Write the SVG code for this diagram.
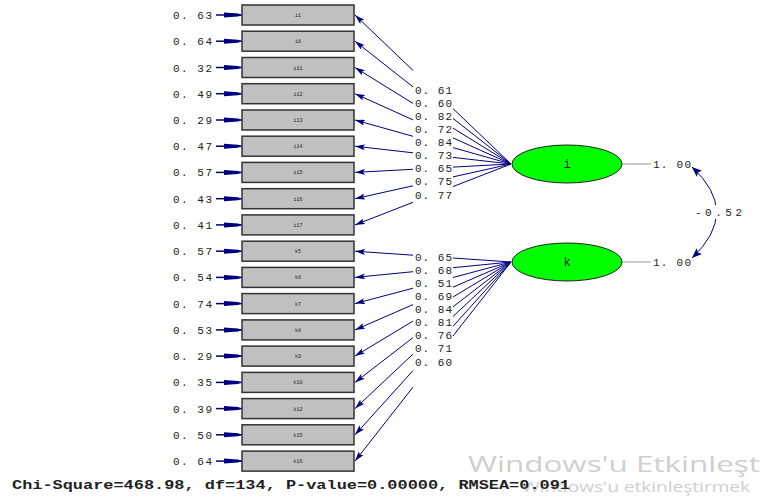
<svg xmlns="http://www.w3.org/2000/svg" width="762" height="497" viewBox="0 0 762 497">
<style>
.box{fill:#c0c0c0;stroke:#333;stroke-width:1.5}
.bl{font-family:"Liberation Mono",monospace;font-size:5px;fill:#222;text-anchor:middle}
.num{font-family:"Liberation Mono",monospace;font-size:11px;fill:#222}
.err{stroke:#000080;stroke-width:1.5;fill:none}
.ld{stroke:#000080;stroke-width:1;fill:none}
.lat{fill:#00ff00;stroke:#222;stroke-width:1}
.latt{font-family:"Liberation Mono",monospace;font-size:12px;fill:#222;text-anchor:middle}
.wm{font-family:"Open Sans","Noto Sans",sans-serif;fill:#cfcfcf}
</style>
<defs>
<marker id="ah" viewBox="0 0 10 6" refX="10" refY="3" markerWidth="10" markerHeight="6" markerUnits="userSpaceOnUse" orient="auto">
<path d="M0,0 L10,3 L0,6 L2,3 Z" fill="#000080"/>
</marker>
<marker id="eh" viewBox="0 0 18 6" refX="18" refY="3" markerWidth="18" markerHeight="6" markerUnits="userSpaceOnUse" orient="auto">
<path d="M0,0.5 L14,1.5 L18,3 L14,4.5 L0,5.5 Z" fill="#000080"/>
</marker>
<marker id="ch" viewBox="0 0 10 8" refX="10" refY="4" markerWidth="10" markerHeight="8" markerUnits="userSpaceOnUse" orient="auto-start-reverse">
<path d="M0,0 L10,4 L0,8 L2,4 Z" fill="#000080"/>
</marker>
</defs>
<rect width="762" height="497" fill="#fff"/>

<g id="connectors">
<g id="error-arrows">
<line class="err" x1="216" y1="15" x2="242" y2="15" marker-end="url(#eh)"/>
<line class="err" x1="216" y1="41.2" x2="242" y2="41.2" marker-end="url(#eh)"/>
<line class="err" x1="216" y1="67.5" x2="242" y2="67.5" marker-end="url(#eh)"/>
<line class="err" x1="216" y1="93.7" x2="242" y2="93.7" marker-end="url(#eh)"/>
<line class="err" x1="216" y1="120" x2="242" y2="120" marker-end="url(#eh)"/>
<line class="err" x1="216" y1="146.2" x2="242" y2="146.2" marker-end="url(#eh)"/>
<line class="err" x1="216" y1="172.4" x2="242" y2="172.4" marker-end="url(#eh)"/>
<line class="err" x1="216" y1="198.7" x2="242" y2="198.7" marker-end="url(#eh)"/>
<line class="err" x1="216" y1="224.9" x2="242" y2="224.9" marker-end="url(#eh)"/>
<line class="err" x1="216" y1="251.2" x2="242" y2="251.2" marker-end="url(#eh)"/>
<line class="err" x1="216" y1="277.4" x2="242" y2="277.4" marker-end="url(#eh)"/>
<line class="err" x1="216" y1="303.6" x2="242" y2="303.6" marker-end="url(#eh)"/>
<line class="err" x1="216" y1="329.9" x2="242" y2="329.9" marker-end="url(#eh)"/>
<line class="err" x1="216" y1="356.1" x2="242" y2="356.1" marker-end="url(#eh)"/>
<line class="err" x1="216" y1="382.4" x2="242" y2="382.4" marker-end="url(#eh)"/>
<line class="err" x1="216" y1="408.6" x2="242" y2="408.6" marker-end="url(#eh)"/>
<line class="err" x1="216" y1="434.8" x2="242" y2="434.8" marker-end="url(#eh)"/>
<line class="err" x1="216" y1="461.1" x2="242" y2="461.1" marker-end="url(#eh)"/>
</g>
<g id="loadings-i">
<line class="ld" x1="413" y1="70.4" x2="355" y2="15" marker-end="url(#ah)"/><line class="ld" x1="453" y1="108.6" x2="511" y2="164"/>
<line class="ld" x1="413" y1="86.9" x2="355" y2="41.2" marker-end="url(#ah)"/><line class="ld" x1="453" y1="118.4" x2="511" y2="164"/>
<line class="ld" x1="413" y1="103.4" x2="355" y2="67.5" marker-end="url(#ah)"/><line class="ld" x1="453" y1="128.1" x2="511" y2="164"/>
<line class="ld" x1="413" y1="119.9" x2="355" y2="93.7" marker-end="url(#ah)"/><line class="ld" x1="453" y1="137.9" x2="511" y2="164"/>
<line class="ld" x1="413" y1="136.3" x2="355" y2="120" marker-end="url(#ah)"/><line class="ld" x1="453" y1="147.6" x2="511" y2="164"/>
<line class="ld" x1="413" y1="152.8" x2="355" y2="146.2" marker-end="url(#ah)"/><line class="ld" x1="453" y1="157.4" x2="511" y2="164"/>
<line class="ld" x1="413" y1="169.3" x2="355" y2="172.4" marker-end="url(#ah)"/><line class="ld" x1="453" y1="167.1" x2="511" y2="164"/>
<line class="ld" x1="413" y1="185.8" x2="355" y2="198.7" marker-end="url(#ah)"/><line class="ld" x1="453" y1="176.9" x2="511" y2="164"/>
<line class="ld" x1="413" y1="202.3" x2="355" y2="224.9" marker-end="url(#ah)"/><line class="ld" x1="453" y1="186.6" x2="511" y2="164"/>
</g>
<g id="loadings-k">
<line class="ld" x1="413" y1="255.2" x2="355" y2="251.2" marker-end="url(#ah)"/><line class="ld" x1="453" y1="258" x2="511" y2="262"/>
<line class="ld" x1="413" y1="271.7" x2="355" y2="277.4" marker-end="url(#ah)"/><line class="ld" x1="453" y1="267.7" x2="511" y2="262"/>
<line class="ld" x1="413" y1="288.2" x2="355" y2="303.6" marker-end="url(#ah)"/><line class="ld" x1="453" y1="277.5" x2="511" y2="262"/>
<line class="ld" x1="413" y1="304.6" x2="355" y2="329.9" marker-end="url(#ah)"/><line class="ld" x1="453" y1="287.2" x2="511" y2="262"/>
<line class="ld" x1="413" y1="321.1" x2="355" y2="356.1" marker-end="url(#ah)"/><line class="ld" x1="453" y1="297" x2="511" y2="262"/>
<line class="ld" x1="413" y1="337.6" x2="355" y2="382.4" marker-end="url(#ah)"/><line class="ld" x1="453" y1="306.8" x2="511" y2="262"/>
<line class="ld" x1="413" y1="354.1" x2="355" y2="408.6" marker-end="url(#ah)"/><line class="ld" x1="453" y1="316.5" x2="511" y2="262"/>
<line class="ld" x1="413" y1="370.6" x2="355" y2="434.8" marker-end="url(#ah)"/><line class="ld" x1="453" y1="326.3" x2="511" y2="262"/>
<line class="ld" x1="413" y1="387.1" x2="355" y2="461.1" marker-end="url(#ah)"/><line class="ld" x1="453" y1="336" x2="511" y2="262"/>
</g>
<g id="loading-labels" class="num">
<text x="415" y="93.5" textLength="37">0. 61</text>
<text x="415" y="106.6" textLength="37">0. 60</text>
<text x="415" y="119.7" textLength="37">0. 82</text>
<text x="415" y="132.9" textLength="37">0. 72</text>
<text x="415" y="146" textLength="37">0. 84</text>
<text x="415" y="159.1" textLength="37">0. 73</text>
<text x="415" y="172.2" textLength="37">0. 65</text>
<text x="415" y="185.3" textLength="37">0. 75</text>
<text x="415" y="198.5" textLength="37">0. 77</text>
<text x="415" y="260.6" textLength="37">0. 65</text>
<text x="415" y="273.7" textLength="37">0. 68</text>
<text x="415" y="286.8" textLength="37">0. 51</text>
<text x="415" y="299.9" textLength="37">0. 69</text>
<text x="415" y="313.1" textLength="37">0. 84</text>
<text x="415" y="326.2" textLength="37">0. 81</text>
<text x="415" y="339.3" textLength="37">0. 76</text>
<text x="415" y="352.4" textLength="37">0. 71</text>
<text x="415" y="365.5" textLength="37">0. 60</text>
</g>
<g id="latent-variances">
<line x1="622" y1="164" x2="651" y2="164" stroke="#999" stroke-width="1"/>
<line x1="622" y1="262" x2="651" y2="262" stroke="#999" stroke-width="1"/>
<text class="num" x="653" y="168" textLength="38">1. 00</text>
<text class="num" x="653" y="266" textLength="38">1. 00</text>
</g>
<g id="covariance">
<path class="ld" d="M692,167 Q741,212 692,258" stroke-width="1.3" marker-start="url(#ch)" marker-end="url(#ch)"/>
<rect x="696" y="205" width="46" height="14" fill="#fff"/>
<text class="num" x="695" y="216" textLength="47">-0.52</text>
</g>
</g>

<g id="error-labels" class="num" text-anchor="end">
<text x="212" y="19" textLength="39">0. 63</text>
<text x="212" y="45.2" textLength="39">0. 64</text>
<text x="212" y="71.5" textLength="39">0. 32</text>
<text x="212" y="97.7" textLength="39">0. 49</text>
<text x="212" y="124" textLength="39">0. 29</text>
<text x="212" y="150.2" textLength="39">0. 47</text>
<text x="212" y="176.4" textLength="39">0. 57</text>
<text x="212" y="202.7" textLength="39">0. 43</text>
<text x="212" y="228.9" textLength="39">0. 41</text>
<text x="212" y="255.2" textLength="39">0. 57</text>
<text x="212" y="281.4" textLength="39">0. 54</text>
<text x="212" y="307.6" textLength="39">0. 74</text>
<text x="212" y="333.9" textLength="39">0. 53</text>
<text x="212" y="360.1" textLength="39">0. 29</text>
<text x="212" y="386.4" textLength="39">0. 35</text>
<text x="212" y="412.6" textLength="39">0. 39</text>
<text x="212" y="438.8" textLength="39">0. 50</text>
<text x="212" y="465.1" textLength="39">0. 64</text>
</g>

<g id="i1"><rect class="box" x="242" y="5" width="112" height="20"/><text class="bl" x="298" y="17">i1</text></g>
<g id="i8"><rect class="box" x="242" y="31.2" width="112" height="20"/><text class="bl" x="298" y="43.2">i8</text></g>
<g id="i11"><rect class="box" x="242" y="57.5" width="112" height="20"/><text class="bl" x="298" y="69.5">i11</text></g>
<g id="i12"><rect class="box" x="242" y="83.7" width="112" height="20"/><text class="bl" x="298" y="95.7">i12</text></g>
<g id="i13"><rect class="box" x="242" y="110" width="112" height="20"/><text class="bl" x="298" y="122">i13</text></g>
<g id="i14"><rect class="box" x="242" y="136.2" width="112" height="20"/><text class="bl" x="298" y="148.2">i14</text></g>
<g id="i15"><rect class="box" x="242" y="162.4" width="112" height="20"/><text class="bl" x="298" y="174.4">i15</text></g>
<g id="i16"><rect class="box" x="242" y="188.7" width="112" height="20"/><text class="bl" x="298" y="200.7">i16</text></g>
<g id="i17"><rect class="box" x="242" y="214.9" width="112" height="20"/><text class="bl" x="298" y="226.9">i17</text></g>
<g id="k5"><rect class="box" x="242" y="241.2" width="112" height="20"/><text class="bl" x="298" y="253.2">k5</text></g>
<g id="k6"><rect class="box" x="242" y="267.4" width="112" height="20"/><text class="bl" x="298" y="279.4">k6</text></g>
<g id="k7"><rect class="box" x="242" y="293.6" width="112" height="20"/><text class="bl" x="298" y="305.6">k7</text></g>
<g id="k8"><rect class="box" x="242" y="319.9" width="112" height="20"/><text class="bl" x="298" y="331.9">k8</text></g>
<g id="k9"><rect class="box" x="242" y="346.1" width="112" height="20"/><text class="bl" x="298" y="358.1">k9</text></g>
<g id="k10"><rect class="box" x="242" y="372.4" width="112" height="20"/><text class="bl" x="298" y="384.4">k10</text></g>
<g id="k12"><rect class="box" x="242" y="398.6" width="112" height="20"/><text class="bl" x="298" y="410.6">k12</text></g>
<g id="k15"><rect class="box" x="242" y="424.8" width="112" height="20"/><text class="bl" x="298" y="436.8">k15</text></g>
<g id="k16"><rect class="box" x="242" y="451.1" width="112" height="20"/><text class="bl" x="298" y="463.1">k16</text></g>

<g id="latent-i"><ellipse class="lat" cx="567" cy="164" rx="55" ry="19"/><text class="latt" x="567" y="168">i</text></g>
<g id="latent-k"><ellipse class="lat" cx="567" cy="262" rx="55" ry="19"/><text class="latt" x="567" y="266">k</text></g>

<g id="watermark">
<text class="wm" x="468" y="472" font-size="22" textLength="292" lengthAdjust="spacingAndGlyphs">Windows'u Etkinleşt</text>
<text class="wm" x="522" y="492" font-size="15" textLength="228" lengthAdjust="spacingAndGlyphs">Windows'u etkinleştirmek</text>
</g>
<text id="fit" x="12" y="489" font-family="Liberation Mono, monospace" font-size="12" font-weight="bold" fill="#222" textLength="558" lengthAdjust="spacingAndGlyphs">Chi-Square=468.98, df=134, P-value=0.00000, RMSEA=0.091</text>
</svg>
